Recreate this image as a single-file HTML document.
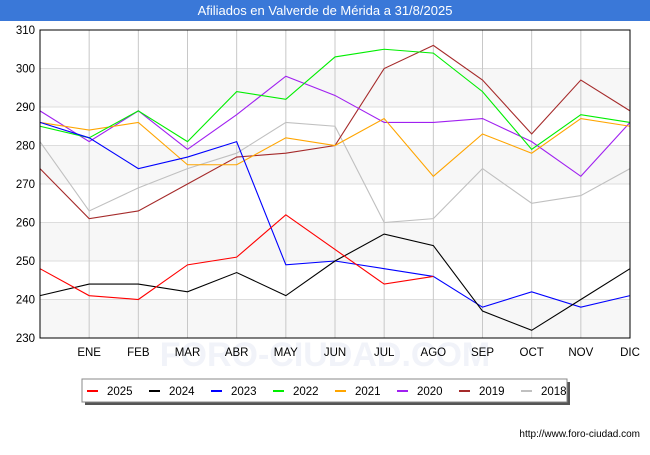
<!DOCTYPE html>
<html><head><meta charset="utf-8"><style>
body{margin:0;width:650px;height:450px;background:#fff;font-family:"Liberation Sans",sans-serif;overflow:hidden}
</style></head><body>
<svg width="650" height="450" xmlns="http://www.w3.org/2000/svg" font-family="Liberation Sans, sans-serif">
<rect x="0" y="0" width="650" height="21" fill="#3a78d8"/>
<text x="325" y="15" text-anchor="middle" fill="#fff" font-size="13">Afiliados en Valverde de Mérida a 31/8/2025</text>
<g id="grid"></g>
<text x="325" y="366" text-anchor="middle" font-size="34" fill="#f1f3f9" font-weight="bold">FORO-CIUDAD.COM</text>
<g id="series"></g>
<rect x="40" y="30" width="590" height="308" fill="none" stroke="#000" stroke-width="1"/>
<g id="axes"></g>
<rect x="85" y="382" width="485" height="23" fill="#555"/>
<rect x="82" y="379" width="485" height="23" fill="#fff" stroke="#888"/>
<g id="legend"></g>
<text x="640" y="437" text-anchor="end" font-size="10" fill="#000">http://www.foro-ciudad.com</text>
</svg>
<script>
const months=["","ENE","FEB","MAR","ABR","MAY","JUN","JUL","AGO","SEP","OCT","NOV","DIC"];
const yTicks=[230,240,250,260,270,280,290,300,310];
const seriesNames=["2025","2024","2023","2022","2021","2020","2019","2018"];
const seriesColors=["#ff0000","#000000","#0000ff","#00ee00","#ffa500","#a020f0","#a52a2a","#c0c0c0"];
const s2025=[248,241,240,249,251,262,253,244,246];
const s2024=[241,244,244,242,247,241,250,257,254,237,232,240,248];
const s2023=[286,282,274,277,281,249,250,248,246,238,242,238,241];
const s2022=[285,282,289,281,294,292,303,305,304,294,279,288,286];
const s2021=[286,284,286,275,275,282,280,287,272,283,278,287,285];
const s2020=[289,281,289,279,288,298,293,286,286,287,281,272,286];
const s2019=[274,261,263,270,277,278,280,300,306,297,283,297,289];
const s2018=[281,263,269,274,278,286,285,260,261,274,265,267,274];
const allSeries=[s2025,s2024,s2023,s2022,s2021,s2020,s2019,s2018];
const NS="http://www.w3.org/2000/svg";
const X0=40,X1=630,Y0=338,Y1=30,VMIN=230,VMAX=310;
const xs=i=>X0+i*(X1-X0)/12;
const ys=v=>Y0-(v-VMIN)*(Y0-Y1)/(VMAX-VMIN);
function mk(t,a,p){const e=document.createElementNS(NS,t);for(const k in a)e.setAttribute(k,a[k]);p.appendChild(e);return e;}
const grid=document.getElementById('grid'),axes=document.getElementById('axes');
for(let i=0;i<yTicks.length-1;i++){
 if(i%2===0){const r=mk('rect',{x:X0,y:ys(yTicks[i+1]),width:X1-X0,height:ys(yTicks[i])-ys(yTicks[i+1]),fill:'#f7f7f7'},grid);
 
 }
}
yTicks.forEach(v=>{
 const l=mk('line',{x1:X0,x2:X1,y1:ys(v),y2:ys(v),stroke:'#ddd'},grid);
 
 
 const t=mk('text',{x:X0-5,y:ys(v)+4,'text-anchor':'end','font-size':'11.5'},axes);
 t.textContent=v;
 
 
});
months.forEach((m,i)=>{
 if(i===0)return;
 const l=mk('line',{x1:xs(i),x2:xs(i),y1:Y1,y2:Y0,stroke:'#c8c8c8'},grid);
 
 
 const t=mk('text',{x:xs(i),y:356,'text-anchor':'middle','font-size':'11.5'},axes);
 t.textContent=m;
 
 
});
const sg=document.getElementById('series');
for(let k=allSeries.length-1;k>=0;k--){
 const d=allSeries[k];
 const p=mk('polyline',{points:d.map((v,i)=>xs(i)+','+ys(v)).join(' '),fill:'none',stroke:seriesColors[k],'stroke-width':'1.1'},sg);
 
 
}
const lg=document.getElementById('legend');
seriesNames.forEach((n,i)=>{
 const x=87+i*62;
 const s=mk('line',{x1:x,x2:x+11,y1:391,y2:391,stroke:seriesColors[i],'stroke-width':'2'},lg);
 
 
 const t=mk('text',{x:x+20,y:395,'font-size':'11.5'},lg);
 t.textContent=n;
 
 
});
</script>
</body></html>
